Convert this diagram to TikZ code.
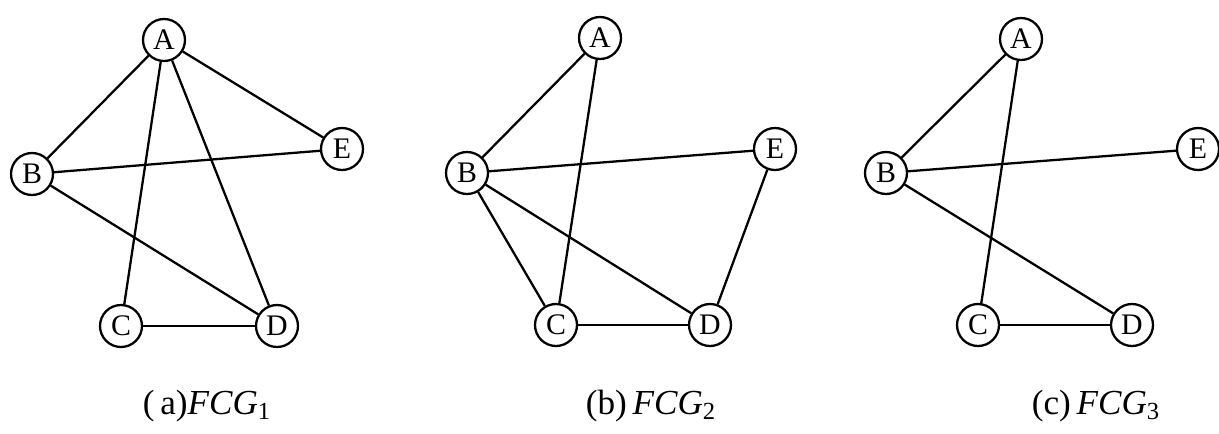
\documentclass[tikz,border=0pt]{standalone}
\usepackage{fontspec}
\setmainfont{Liberation Serif}
\usetikzlibrary{positioning}
\tikzset{
  vert/.style={draw, circle, line width=1.3pt, minimum size=0.84cm, inner sep=0pt, font=\fontsize{17}{17}\selectfont},
  link/.style={line width=1.3pt},
  caption/.style={font=\fontsize{20}{20}\selectfont},
}

\begin{document}
\begin{tikzpicture}[x=0.02cm, y=-0.02cm]
    \useasboundingbox (0,0) rectangle (1219,433);
    % (a) FCG_1
    \node[vert] (A1) at (164,40)  {A};
    \node[vert] (B1) at (32,174)  {B};
    \node[vert] (E1) at (342,149) {E};
    \node[vert] (C1) at (121,326) {C};
    \node[vert] (D1) at (277,326) {D};
    \draw[link] (A1) -- (B1);
    \draw[link] (A1) -- (E1);
    \draw[link] (A1) -- (C1);
    \draw[link] (A1) -- (D1);
    \draw[link] (B1) -- (E1);
    \draw[link] (B1) -- (D1);
    \draw[link] (C1) -- (D1);
    \node[caption] (capA) at (207,406) {(\,a)\textit{FCG}\textsubscript{1}};
    % (b) FCG_2
    \node[vert] (A2) at (600,38)  {A};
    \node[vert] (B2) at (467,173) {B};
    \node[vert] (E2) at (775,149) {E};
    \node[vert] (C2) at (556,325) {C};
    \node[vert] (D2) at (710,325) {D};
    \draw[link] (A2) -- (B2);
    \draw[link] (A2) -- (C2);
    \draw[link] (B2) -- (E2);
    \draw[link] (B2) -- (C2);
    \draw[link] (B2) -- (D2);
    \draw[link] (E2) -- (D2);
    \draw[link] (C2) -- (D2);
    \node[caption] (capB) at (651,406) {(b)\,\textit{FCG}\textsubscript{2}};
    % (c) FCG_3
    \node[vert] (A3) at (1021,39)  {A};
    \node[vert] (B3) at (886,173)  {B};
    \node[vert] (E3) at (1198,149) {E};
    \node[vert] (C3) at (978,325)  {C};
    \node[vert] (D3) at (1132,325) {D};
    \draw[link] (A3) -- (B3);
    \draw[link] (A3) -- (C3);
    \draw[link] (B3) -- (E3);
    \draw[link] (B3) -- (D3);
    \draw[link] (C3) -- (D3);
    \node[caption] (capC) at (1096,406) {(c)\,\textit{FCG}\textsubscript{3}};
  \end{tikzpicture}
\end{document}
